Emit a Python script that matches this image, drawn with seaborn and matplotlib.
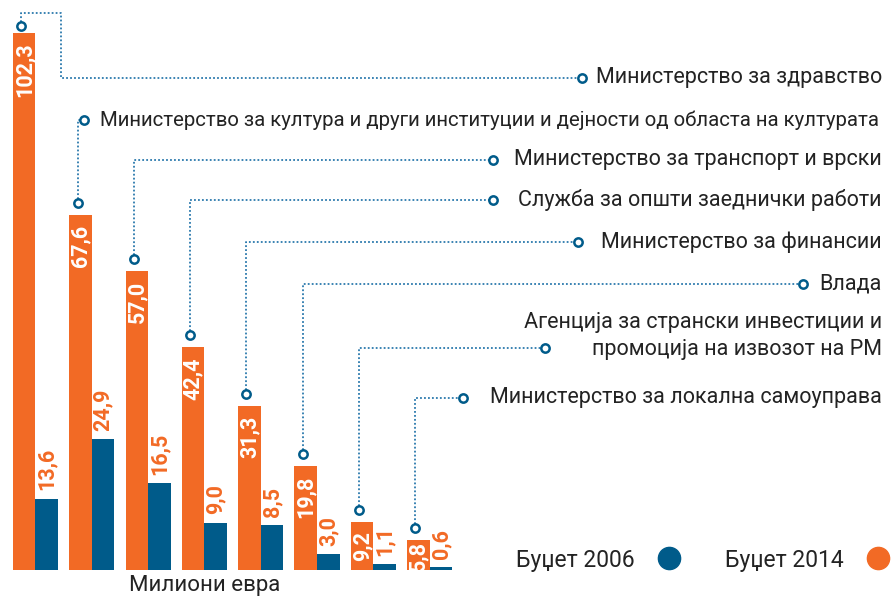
import pandas as pd
import seaborn as sns
import matplotlib.pyplot as plt
from matplotlib.lines import Line2D

# Податоци (милиони евра)
institucii = [
    "Министерство за здравство",
    "Министерство за култура и други институции и дејности од областа на културата",
    "Министерство за транспорт и врски",
    "Служба за општи заеднички работи",
    "Министерство за финансии",
    "Влада",
    "Агенција за странски инвестиции и\nпромоција на извозот на РМ",
    "Министерство за локална самоуправа",
]
budzet_2014 = [102.3, 67.6, 57.0, 42.4, 31.3, 19.8, 9.2, 5.8]
budzet_2006 = [13.6, 24.9, 16.5, 9.0, 8.5, 3.0, 1.1, 0.6]
godini = ["Буџет 2014", "Буџет 2006"]

df = pd.DataFrame({
    "institucija": list(range(len(institucii))) * 2,
    "godina": [godini[0]] * len(institucii) + [godini[1]] * len(institucii),
    "iznos": budzet_2014 + budzet_2006,
})

ORANGE = "#F26A25"
BLUE = "#005B8A"
LINE = "#2B79AD"
TEXT = "#232323"
FONT = ["Roboto", "DejaVu Sans"]

sns.set_style("white")
plt.rcParams["font.family"] = FONT

W, H = 893, 599
fig = plt.figure(figsize=(W / 100, H / 100), dpi=100)
ax = fig.add_axes([0, 0, 1, 1])
sns.barplot(data=df, x="institucija", y="iznos", hue="godina", hue_order=godini,
            palette=[ORANGE, BLUE], saturation=1, width=0.8, linewidth=0,
            legend=False, ax=ax)
ax.set_xlim(-0.63, 15.23)
ax.set_ylim(-5.52, 108.57)
ax.axis("off")

fmt = lambda v: f"{v:.1f}".replace(".", ",")

# вредности на столбовите
for p, v in zip(ax.containers[0], budzet_2014):
    ax.annotate(fmt(v), (p.get_x() + p.get_width() / 2, v),
                xytext=(0, -7 if v > 8 else -1),
                textcoords="offset points", rotation=90, ha="center", va="top",
                color="white", fontsize=15.5, fontweight="bold")
for p, v in zip(ax.containers[1], budzet_2006):
    ax.annotate(fmt(v), (p.get_x() + p.get_width() / 2, v), xytext=(0, 6),
                textcoords="offset points", rotation=90, ha="center", va="bottom",
                color=ORANGE, fontsize=15.5, fontweight="bold")

# поврзувачки линии кон имињата (позиции во пиксели од горе)
inv = ax.transData.inverted()
def to_data(x, y):
    return inv.transform((x, H - y))

redovi = [78, 120, 160, 200, 242, 284, 348, 398]
krug_x = [582, 84, 493, 493, 578, 803, 545, 463]

for i, p in enumerate(ax.containers[0]):
    bx, by = ax.transData.transform((p.get_x() + p.get_width() / 2, budzet_2014[i]))
    bx, by = bx - 3, H - by - (7 if i == 0 else 12)
    if i == 0:
        pts = [(bx, by), (bx, 13), (61, 13), (61, redovi[i]), (krug_x[i], redovi[i])]
    else:
        pts = [(bx, by), (bx, redovi[i]), (krug_x[i], redovi[i])]
    d = [to_data(x, y) for x, y in pts]
    ax.plot([q[0] for q in d], [q[1] for q in d], color=LINE, lw=1.3,
            ls=(0, (1, 1.2)), solid_capstyle="butt", zorder=3)
    for q in (d[0], d[-1]):
        ax.plot(q[0], q[1], "o", ms=6, mfc="white", mec=BLUE, mew=1.8, zorder=4)

    if i == 1:
        fig.text(100 / W, 1 - redovi[i] / H, institucii[i], ha="left", va="center",
                 fontsize=14.7, color=TEXT)
    elif i == 6:
        fig.text(882 / W, 1 - 336 / H, institucii[i], ha="right", va="center",
                 fontsize=15.5, color=TEXT, linespacing=1.4)
    else:
        fig.text(882 / W, 1 - redovi[i] / H, institucii[i], ha="right", va="center",
                 fontsize=15.5, color=TEXT)

fig.text(205 / W, 1 - 585 / H, "Милиони евра", ha="center", va="center",
         fontsize=16, color=TEXT)

handles = [Line2D([], [], ls="", marker="o", ms=16, color=BLUE),
           Line2D([], [], ls="", marker="o", ms=16, color=ORANGE)]
fig.legend(handles, [godini[1], godini[0]], ncol=2, markerfirst=False, frameon=False,
           loc="center right", bbox_to_anchor=(1.032, 1 - 560 / H),
           prop={"family": FONT, "size": 16.5},
           handletextpad=0.5, columnspacing=1.45, labelcolor=TEXT)

fig.savefig("out.png", dpi=100)
